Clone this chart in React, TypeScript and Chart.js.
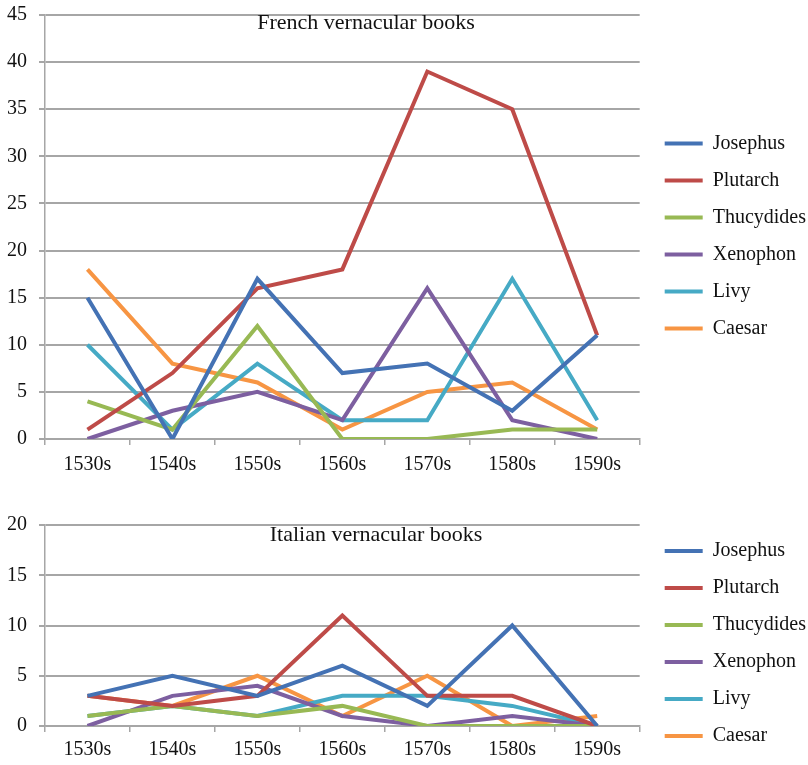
import React, { useEffect, useRef } from 'react';
import { Chart, registerables } from 'chart.js';

Chart.register(...registerables);

const decades = ['1530s', '1540s', '1550s', '1560s', '1570s', '1580s', '1590s'];
const authors = ['Josephus', 'Plutarch', 'Thucydides', 'Xenophon', 'Livy', 'Caesar'];
const authorColors = ['#4472B4', '#BE4B48', '#98B954', '#7D5FA0', '#46AAC5', '#F79543'];

// French vernacular books
const frenchJosephus = [15, 0, 17, 7, 8, 3, 11];
const frenchPlutarch = [1, 7, 16, 18, 39, 35, 11];
const frenchThucydides = [4, 1, 12, 0, 0, 1, 1];
const frenchXenophon = [0, 3, 5, 2, 16, 2, 0];
const frenchLivy = [10, 1, 8, 2, 2, 17, 2];
const frenchCaesar = [18, 8, 6, 1, 5, 6, 1];
const frenchTicks = [0, 5, 10, 15, 20, 25, 30, 35, 40, 45];

// Italian vernacular books
const italianJosephus = [3, 5, 3, 6, 2, 10, 0];
const italianPlutarch = [3, 2, 3, 11, 3, 3, 0];
const italianThucydides = [1, 2, 1, 2, 0, 0, 0];
const italianXenophon = [0, 3, 4, 1, 0, 1, 0];
const italianLivy = [1, 2, 1, 3, 3, 2, 0];
const italianCaesar = [3, 2, 5, 1, 5, 0, 1];
const italianTicks = [0, 5, 10, 15, 20];

const FONT = '"Liberation Serif", "Times New Roman", serif';
const GRID = '#a6a6a6';

const insideTitle = {
  id: 'insideTitle',
  beforeDatasetsDraw(chart: any, _args: any, opts: any) {
    const { ctx } = chart;
    ctx.save();
    ctx.font = `22px ${FONT}`;
    ctx.fillStyle = '#111';
    ctx.textAlign = 'center';
    ctx.textBaseline = 'alphabetic';
    ctx.fillText(opts.text, opts.x, opts.y);
    ctx.restore();
  },
};

const legendShift = {
  id: 'legendShift',
  afterInit(chart: any, _args: any, opts: any) {
    const lg = chart.legend;
    if (!lg) return;
    const origFit = lg.fit.bind(lg);
    lg.fit = function () {
      origFit();
      this.width -= opts.shrink || 0;
    };
    const origDraw = lg.draw.bind(lg);
    lg.draw = function (area: any) {
      const c = chart.ctx;
      c.save();
      c.translate(opts.dx || 0, opts.dy || 0);
      origDraw(area);
      c.restore();
    };
  },
};

function makeConfig(
  series: number[][],
  ticks: number[],
  title: string,
  pad: any,
  titlePos: any,
  shift: any,
  xLabelPad: number
) {
  return {
    type: 'line',
    data: {
      labels: decades,
      datasets: authors.map((a, i) => ({
        label: a,
        data: series[i],
        borderColor: authorColors[i],
        backgroundColor: authorColors[i],
        borderWidth: 4,
        pointRadius: 0,
        tension: 0,
        fill: false,
      })),
    },
    options: {
      responsive: false,
      animation: false,
      devicePixelRatio: 1,
      layout: { padding: pad },
      scales: {
        x: {
          offset: true,
          grid: {
            offset: true,
            drawOnChartArea: false,
            drawTicks: true,
            tickLength: 6,
            color: GRID,
            lineWidth: 1.5,
          },
          border: { color: GRID, width: 1.5 },
          ticks: { color: '#111', font: { family: FONT, size: 20 }, padding: xLabelPad, maxRotation: 0 },
        },
        y: {
          min: ticks[0],
          max: ticks[ticks.length - 1],
          afterBuildTicks: (scale: any) => {
            scale.ticks = ticks.map((v) => ({ value: v }));
          },
          afterFit: (scale: any) => {
            scale.width = 38;
            scale.paddingTop = 0;
            scale.paddingBottom = 0;
          },
          grid: { color: GRID, lineWidth: 2, tickLength: 6 },
          border: { color: GRID, width: 1.5 },
          ticks: { color: '#111', font: { family: FONT, size: 20 }, padding: 12 },
        },
      },
      plugins: {
        legend: {
          position: 'right',
          labels: {
            boxWidth: 38,
            boxHeight: 4,
            padding: 17,
            color: '#111',
            font: { family: FONT, size: 20 },
            generateLabels: (chart: any) =>
              chart.data.datasets.map((d: any, i: number) => ({
                text: d.label,
                fillStyle: d.borderColor,
                strokeStyle: d.borderColor,
                lineWidth: 0,
                fontColor: '#111',
                datasetIndex: i,
                hidden: false,
              })),
          },
        },
        tooltip: { enabled: false },
        insideTitle: { text: title, x: titlePos.x, y: titlePos.y },
        legendShift: shift,
      },
    },
    plugins: [insideTitle, legendShift],
  };
}

function LineChart({ width, height, config }: { width: number; height: number; config: any }) {
  const ref = useRef<HTMLCanvasElement>(null);
  useEffect(() => {
    if (!ref.current) return;
    const chart = new Chart(ref.current, config);
    return () => chart.destroy();
  }, []);
  return <canvas ref={ref} width={width} height={height} style={{ display: 'block' }} />;
}

export default function App() {
  useEffect(() => {
    document.body.style.margin = '0';
    document.body.style.background = '#fff';
  }, []);
  const french = makeConfig(
    [frenchJosephus, frenchPlutarch, frenchThucydides, frenchXenophon, frenchLivy, frenchCaesar],
    frenchTicks,
    'French vernacular books',
    { left: 7, top: 15, right: 0, bottom: 0 },
    { x: 366, y: 29 },
    { shrink: 0, dx: 8, dy: -14 },
    8
  );
  const italian = makeConfig(
    [italianJosephus, italianPlutarch, italianThucydides, italianXenophon, italianLivy, italianCaesar],
    italianTicks,
    'Italian vernacular books',
    { left: 7, top: 40, right: 0, bottom: -3 },
    { x: 376, y: 56 },
    { shrink: 0, dx: 8, dy: -3 },
    6
  );
  return (
    <div style={{ width: 808, height: 765, background: '#fff' }}>
      <LineChart width={808} height={485} config={french} />
      <LineChart width={808} height={280} config={italian} />
    </div>
  );
}
